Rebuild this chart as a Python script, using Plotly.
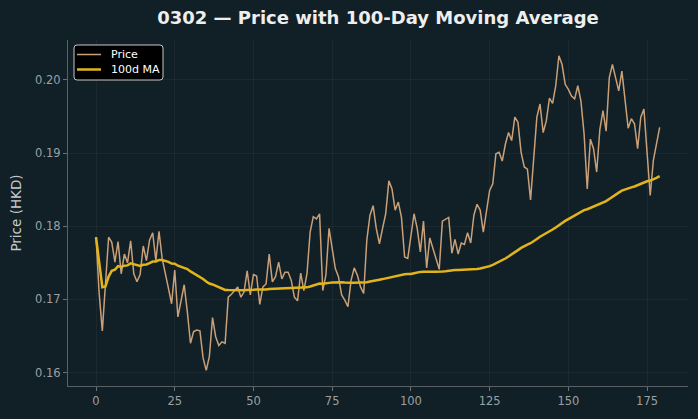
import numpy as np
import pandas as pd
import plotly.graph_objects as go

title_text = "0302 — Price with 100-Day Moving Average"
y_label = "Price (HKD)"
ma_window = 100
series_names = ["Price", "100d MA"]

price = [
    0.1785, 0.1708, 0.1657, 0.1721, 0.1785, 0.1778, 0.1751, 0.1779, 0.1735, 0.1762,
    0.1750, 0.1780, 0.1735, 0.1724, 0.1734, 0.1773, 0.1753, 0.1781, 0.1791, 0.1753,
    0.1793, 0.1756, 0.1733, 0.1715, 0.1694, 0.1740, 0.1676, 0.1699, 0.1720, 0.1683,
    0.1640, 0.1656, 0.1658, 0.1657, 0.1620, 0.1603, 0.1622, 0.1675, 0.1649, 0.1637,
    0.1642, 0.1640, 0.1703, 0.1707, 0.1712, 0.1717, 0.1703, 0.1710, 0.1739, 0.1706,
    0.1734, 0.1732, 0.1693, 0.1717, 0.1721, 0.1762, 0.1724, 0.1731, 0.1751, 0.1728,
    0.1737, 0.1737, 0.1726, 0.1703, 0.1698, 0.1736, 0.1712, 0.1735, 0.1792, 0.1813,
    0.1810, 0.1817, 0.1712, 0.1733, 0.1797, 0.1769, 0.1742, 0.1731, 0.1706, 0.1699,
    0.1690, 0.1726, 0.1743, 0.1733, 0.1717, 0.1708, 0.1781, 0.1815, 0.1828, 0.1797,
    0.1776, 0.1797, 0.1817, 0.1862, 0.1851, 0.1822, 0.1833, 0.1812, 0.1758, 0.1756,
    0.1790, 0.1817, 0.1797, 0.1765, 0.1807, 0.1743, 0.1784, 0.1769, 0.1753, 0.1741,
    0.1807, 0.1809, 0.1812, 0.1763, 0.1782, 0.1762, 0.1777, 0.1775, 0.1791, 0.1777,
    0.1815, 0.1830, 0.1822, 0.1792, 0.1822, 0.1849, 0.1858, 0.1899, 0.1901, 0.1889,
    0.1912, 0.1928, 0.1917, 0.1949, 0.1942, 0.1901, 0.1881, 0.1878, 0.1836, 0.1890,
    0.1949, 0.1967, 0.1928, 0.1944, 0.1975, 0.1968, 0.1992, 0.2033, 0.2021, 0.1994,
    0.1987, 0.1978, 0.1974, 0.1992, 0.1971, 0.1926, 0.1851, 0.1919, 0.1906, 0.1874,
    0.1932, 0.1958, 0.1930, 0.2003, 0.2021, 0.2003, 0.1985, 0.2012, 0.1974, 0.1934,
    0.1947, 0.1940, 0.1906, 0.1949, 0.1960, 0.1905, 0.1842, 0.1890, 0.1912, 0.1935,
]
days = list(range(len(price)))
x_ticks = [0, 25, 50, 75, 100, 125, 150, 175]
y_ticks = [0.16, 0.17, 0.18, 0.19, 0.20]

ma = pd.Series(price).rolling(ma_window, min_periods=1).mean().tolist()

BG = "#111f26"
PRICE_C = "#c9a078"
MA_C = "#e2b41c"

W, H = 698, 419
L, R, T, B = 68, 10, 40, 33
PW, PH = W - L - R, H - T - B


def px(xp):
    return (xp - L) / PW


def py(yp):
    return (H - B - yp) / PH


fig = go.Figure()
fig.add_trace(go.Scatter(x=days, y=price, mode="lines", name=series_names[0],
                         line=dict(color=PRICE_C, width=1.5), showlegend=False))
fig.add_trace(go.Scatter(x=days, y=ma, mode="lines", name=series_names[1],
                         line=dict(color=MA_C, width=2.5), showlegend=False))

axis_common = dict(showline=True, linecolor="#5a6166", linewidth=1,
                   ticks="outside", ticklen=4, tickcolor="#6a7176",
                   tickfont=dict(family="DejaVu Sans", size=11.5, color="#9aa0a4"),
                   showgrid=True, gridcolor="rgba(255,255,255,0.045)", gridwidth=1,
                   zeroline=False, mirror=False)

# custom legend (matplotlib-style box)
x0, x1, y0, y1, r = 74, 163, 45, 80, 3
path = (f"M {px(x0 + r)},{py(y0)} L {px(x1 - r)},{py(y0)} "
        f"Q {px(x1)},{py(y0)} {px(x1)},{py(y0 + r)} L {px(x1)},{py(y1 - r)} "
        f"Q {px(x1)},{py(y1)} {px(x1 - r)},{py(y1)} L {px(x0 + r)},{py(y1)} "
        f"Q {px(x0)},{py(y1)} {px(x0)},{py(y1 - r)} L {px(x0)},{py(y0 + r)} "
        f"Q {px(x0)},{py(y0)} {px(x0 + r)},{py(y0)} Z")
shapes = [
    dict(type="path", xref="paper", yref="paper", path=path,
         fillcolor="#000000", line=dict(color="#c8c8c8", width=1), layer="above"),
    dict(type="line", xref="paper", yref="paper", x0=px(77), x1=px(101), y0=py(54.5), y1=py(54.5),
         line=dict(color=PRICE_C, width=1.5), layer="above"),
    dict(type="line", xref="paper", yref="paper", x0=px(77), x1=px(101), y0=py(69.5), y1=py(69.5),
         line=dict(color=MA_C, width=2.5), layer="above"),
]
annotations = [
    dict(xref="paper", yref="paper", x=px(109), y=py(54.5), text=series_names[0], showarrow=False,
         xanchor="left", yanchor="middle", font=dict(family="DejaVu Sans", size=11, color="#ffffff")),
    dict(xref="paper", yref="paper", x=px(109), y=py(69.5), text=series_names[1], showarrow=False,
         xanchor="left", yanchor="middle", font=dict(family="DejaVu Sans", size=11, color="#ffffff")),
]

fig.update_layout(
    width=W, height=H,
    paper_bgcolor=BG, plot_bgcolor=BG,
    margin=dict(l=L, r=R, t=T, b=B),
    title=dict(text=f"<b>{title_text}</b>", x=(L + W - R) / 2 / W, xanchor="center",
               y=1 - 18 / H, yanchor="middle",
               font=dict(family="DejaVu Sans", size=18, color="#eeeeee")),
    xaxis=dict(range=[-8.9, 188], tickvals=x_ticks, **axis_common),
    yaxis=dict(range=[0.15816, 0.20545], tickvals=y_ticks, tickformat=".2f",
               title=dict(text=y_label, font=dict(family="DejaVu Sans", size=13.5, color="#c5c9cc"),
                          standoff=10),
               **axis_common),
    shapes=shapes,
    annotations=annotations,
    showlegend=False,
)

fig.write_html("out.html")
